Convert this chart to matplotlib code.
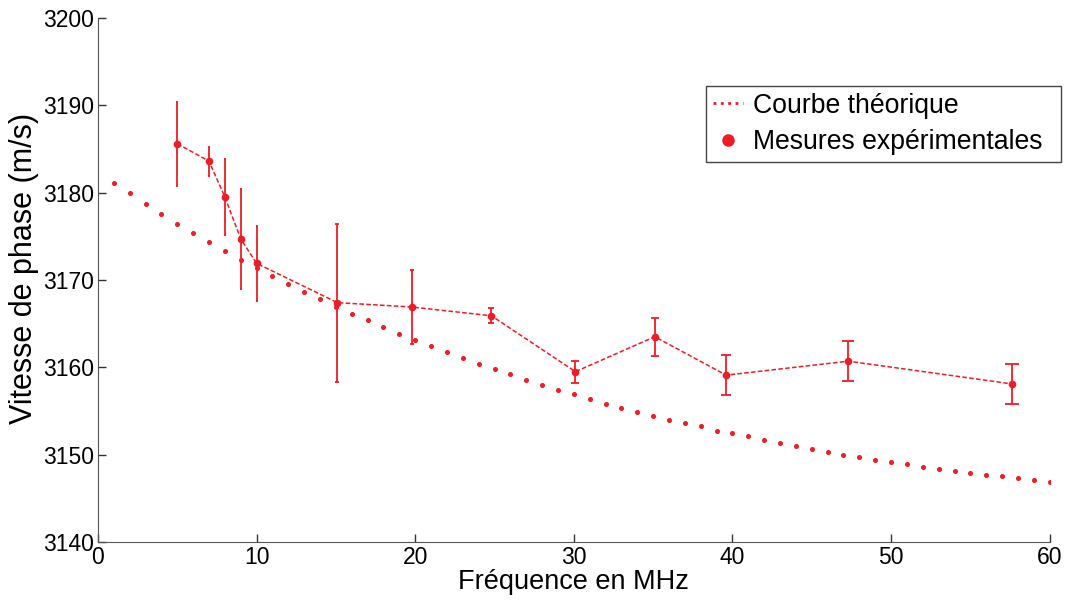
import numpy as np
import matplotlib
matplotlib.use('Agg')
import matplotlib.pyplot as plt
from matplotlib.lines import Line2D

plt.rcParams['font.family'] = ['Liberation Sans', 'DejaVu Sans']

# courbe theorique (1 point par MHz)
f_theo = np.arange(1, 61)
v_theo = [3181.1, 3179.9, 3178.7, 3177.5, 3176.45, 3175.4, 3174.3, 3173.3, 3172.25, 3171.4,
          3170.4, 3169.5, 3168.65, 3167.8, 3166.9, 3166.1, 3165.4, 3164.6, 3163.8, 3163.1,
          3162.4, 3161.7, 3161.05, 3160.35, 3159.8, 3159.2, 3158.6, 3158.0, 3157.4, 3156.9,
          3156.35, 3155.85, 3155.35, 3154.9, 3154.45, 3154.0, 3153.6, 3153.25, 3152.75, 3152.45,
          3152.1, 3151.7, 3151.3, 3151.0, 3150.7, 3150.3, 3150.0, 3149.75, 3149.4, 3149.1,
          3148.9, 3148.6, 3148.4, 3148.15, 3147.9, 3147.7, 3147.5, 3147.3, 3147.1, 3146.9]

# mesures
f_mes = [5.0, 7.0, 8.0, 9.0, 10.0, 15.1, 19.8, 24.8, 30.1, 35.1, 39.6, 47.3, 57.6]
v_mes = [3185.6, 3183.6, 3179.5, 3174.7, 3171.9, 3167.4, 3166.9, 3165.9, 3159.5, 3163.5, 3159.1, 3160.7, 3158.1]
err_mes = [4.8, 1.65, 4.35, 5.7, 4.3, 9.05, 4.2, 0.85, 1.25, 2.2, 2.3, 2.3, 2.3]

red = '#ee1c25'

fig = plt.figure(figsize=(10.67, 6.01), dpi=100)
ax = fig.add_axes([0.0918, 0.0982, 0.892, 0.872])

ax.plot(f_theo, v_theo, linestyle='none', marker='o', ms=2.6, color=red, mec=red)

ax.plot(f_mes, v_mes, linestyle='--', dashes=(3, 1.5), lw=1.1, color=red,
        marker='o', ms=4.5, zorder=3)
for f, v, e in zip(f_mes, v_mes, err_mes):
    ax.errorbar([f], [v], yerr=[e], fmt='none', ecolor=red, elinewidth=1.3,
                capsize=0.085 * f, capthick=1.3)

ax.set_xlim(0, 60)
ax.set_ylim(3140, 3200)
ax.set_xticks(range(0, 61, 10))
ax.set_yticks(range(3140, 3201, 10))
ax.tick_params(direction='in', length=6, width=1, labelsize=16.5, colors='#333333',
               labelcolor='black', pad=3)
for s in ['top', 'right']:
    ax.spines[s].set_visible(False)
for s in ['left', 'bottom']:
    ax.spines[s].set_color('#555555')

ax.set_xlabel('Fréquence en MHz', fontsize=19.5, labelpad=0)
ax.set_ylabel('Vitesse de phase (m/s)', fontsize=22, labelpad=3, y=0.522)

handles = [Line2D([], [], color=red, linestyle=':', lw=2),
           Line2D([], [], color=red, linestyle='none', marker='o', ms=8)]
leg = ax.legend(handles, ['Courbe théorique', 'Mesures expérimentales'],
                loc='upper left', bbox_to_anchor=(0.6388, 0.0, 0.373, 0.87),
                mode='expand', borderaxespad=0,
                fontsize=19.2, fancybox=False, edgecolor='#444444', framealpha=1,
                handlelength=1.15, handletextpad=0.35, borderpad=0.25, labelspacing=0.4)
leg.get_frame().set_linewidth(1)

fig.savefig('out.png', dpi=100)
